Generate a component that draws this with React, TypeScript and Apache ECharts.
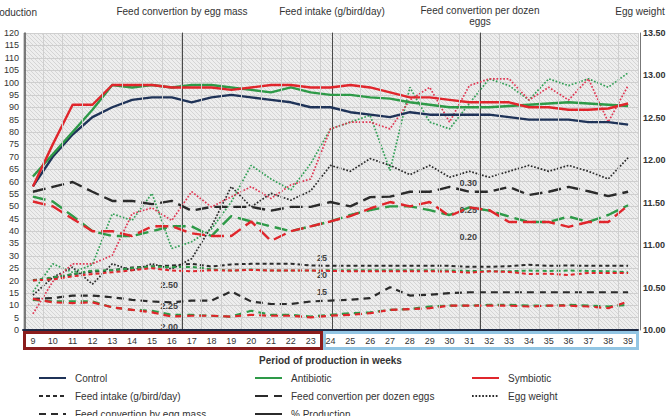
import { useEffect, useRef } from 'react';
import * as echarts from 'echarts';

// Weeks of the laying period
const weeks = ['9', '10', '11', '12', '13', '14', '15', '16', '17', '18', '19', '20', '21', '22', '23', '24', '25', '26', '27', '28', '29', '30', '31', '32', '33', '34', '35', '36', '37', '38', '39'];

// % Production (left axis)
const prodControl = [58, 70, 79, 86, 90, 93, 94, 94, 92, 94, 95, 94, 93, 92, 90, 90, 88, 87, 86, 88, 87, 87, 87, 87, 86, 85, 85, 85, 84, 84, 83];
const prodAntibiotic = [62, 71, 80, 89, 99, 98, 99, 98, 99, 99, 98, 97, 96, 98, 96, 95, 95, 94, 93.5, 92, 91, 90, 90, 90, 90.5, 91, 91.5, 92, 91.5, 91, 90.5];
const prodSymbiotic = [58, 75, 91, 91, 99, 99, 99, 98, 98, 98, 97, 98, 99, 99, 98, 98, 99, 98, 96, 94, 94, 93, 92, 92, 92, 90, 90, 89, 89, 89.5, 91.5];

// Egg weight (right axis)
const eggWControl = [10.41, 10.62, 10.74, 10.54, 10.78, 10.70, 10.78, 10.72, 10.84, 11.22, 11.69, 11.45, 11.61, 11.53, 11.64, 11.94, 11.87, 12.02, 11.94, 11.83, 11.94, 11.80, 11.87, 11.80, 11.87, 11.94, 11.87, 11.94, 11.87, 11.78, 12.03];
const eggWAntibiotic = [10.45, 10.78, 10.68, 10.77, 11.37, 11.29, 11.61, 10.96, 11.04, 11.19, 11.51, 11.94, 11.78, 11.65, 11.96, 12.37, 12.45, 12.53, 11.88, 12.86, 12.45, 12.37, 12.67, 12.96, 12.88, 12.71, 12.96, 12.88, 12.96, 12.86, 13.03];
const eggWSymbiotic = [10.19, 10.57, 10.78, 10.78, 10.88, 11.37, 11.44, 11.29, 11.63, 11.45, 11.57, 11.69, 11.55, 11.71, 11.78, 12.37, 12.45, 12.45, 12.37, 12.71, 12.86, 12.45, 12.88, 12.96, 12.96, 12.71, 12.86, 12.71, 12.96, 12.45, 12.88];

// Feed convertion per dozen eggs
const dozenControl = [0.284, 0.293, 0.302, 0.284, 0.267, 0.267, 0.261, 0.267, 0.249, 0.256, 0.256, 0.256, 0.249, 0.256, 0.256, 0.265, 0.257, 0.274, 0.275, 0.284, 0.284, 0.293, 0.284, 0.284, 0.293, 0.278, 0.284, 0.293, 0.285, 0.276, 0.284];
const dozenAntibiotic = [0.275, 0.266, 0.239, 0.211, 0.202, 0.202, 0.211, 0.220, 0.220, 0.202, 0.239, 0.229, 0.220, 0.211, 0.220, 0.229, 0.241, 0.250, 0.257, 0.257, 0.250, 0.241, 0.255, 0.249, 0.238, 0.228, 0.228, 0.238, 0.228, 0.241, 0.259];
const dozenSymbiotic = [0.266, 0.257, 0.234, 0.211, 0.211, 0.202, 0.220, 0.220, 0.207, 0.202, 0.202, 0.229, 0.193, 0.211, 0.220, 0.229, 0.239, 0.253, 0.265, 0.257, 0.265, 0.239, 0.255, 0.250, 0.228, 0.228, 0.228, 0.219, 0.228, 0.228, 0.259];

// Feed intake (g/bird/day)
const intakeControl = [18.5, 19.0, 20.2, 21.0, 21.4, 22.2, 22.5, 22.8, 23.3, 22.5, 23.1, 23.3, 23.3, 23.3, 22.8, 22.7, 22.7, 22.7, 22.7, 22.7, 22.7, 22.7, 22.4, 22.4, 22.6, 23.0, 22.7, 22.8, 22.7, 22.7, 22.7];
const intakeAntibiotic = [18.4, 19.3, 20.3, 21.3, 21.4, 22.0, 22.5, 22.3, 22.4, 21.7, 21.3, 21.6, 21.3, 21.3, 21.3, 21.4, 21.4, 21.4, 21.4, 21.4, 21.4, 21.3, 21.2, 21.1, 21.1, 21.3, 21.2, 21.3, 21.2, 21.1, 20.8];
const intakeSymbiotic = [18.4, 18.7, 19.6, 20.3, 20.8, 21.4, 22.0, 21.3, 21.1, 21.4, 21.3, 21.5, 21.3, 21.3, 21.3, 21.2, 21.1, 21.1, 21.1, 21.1, 21.1, 21.0, 20.7, 21.1, 20.9, 20.3, 20.4, 20.0, 20.6, 20.6, 20.6];

// Feed convertion by egg mass
const massControl = [2.33, 2.34, 2.37, 2.37, 2.35, 2.32, 2.30, 2.29, 2.31, 2.31, 2.42, 2.30, 2.27, 2.27, 2.30, 2.31, 2.32, 2.34, 2.47, 2.37, 2.38, 2.40, 2.41, 2.41, 2.41, 2.41, 2.41, 2.41, 2.41, 2.41, 2.41];
const massAntibiotic = [2.32, 2.30, 2.30, 2.30, 2.23, 2.20, 2.19, 2.14, 2.14, 2.13, 2.12, 2.19, 2.14, 2.14, 2.12, 2.14, 2.16, 2.17, 2.20, 2.21, 2.24, 2.25, 2.25, 2.26, 2.26, 2.25, 2.25, 2.26, 2.25, 2.24, 2.26];
const massSymbiotic = [2.33, 2.29, 2.28, 2.29, 2.23, 2.20, 2.17, 2.12, 2.13, 2.13, 2.12, 2.14, 2.13, 2.13, 2.11, 2.13, 2.14, 2.16, 2.20, 2.21, 2.22, 2.25, 2.25, 2.25, 2.25, 2.24, 2.25, 2.25, 2.24, 2.22, 2.30];

// Tick labels of the inner axes
const massTicks = [2.0, 2.25, 2.5];
const intakeTicks = [15, 20, 25];
const dozenTicks = [0.2, 0.25, 0.3];

const FONT = '"Liberation Sans", Arial, sans-serif';
const NAVY = '#1f3358';
const GREEN = '#2e9a48';
const RED = '#e0262c';
const BLACK = '#2b2b2b';
const GREEN_DOT = '#35a058';
const RED_DOT = '#e03a55';

const SOLID = 'solid';
const LONG_DASH = [13, 6];
const MID_DASH = [7, 5];
const SHORT_DASH = [4, 3];
const DOTS = [1.7, 1.7];

const hatchSvg =
  '<svg xmlns="http://www.w3.org/2000/svg" width="4" height="4">' +
  '<rect width="4" height="4" fill="#eeeeee"/>' +
  '<path d="M-1,-1 L5,5 M-1,3 L1,5 M3,-1 L5,1" stroke="#d3d3d3" stroke-width="0.9"/>' +
  '</svg>';
const hatch = 'data:image/svg+xml;utf8,' + encodeURIComponent(hatchSvg);

function line(name: string, data: number[], yAxisIndex: number, color: string, width: number, type: any) {
  return {
    type: 'line',
    name,
    data,
    yAxisIndex,
    symbol: 'none',
    silent: true,
    lineStyle: { color, width, type, cap: 'butt' },
    itemStyle: { color },
    emphasis: { disabled: true },
  };
}

function legendOnly(name: string, color: string, width: number, type: any) {
  return line(name, [], 0, color, width, type);
}

const axisLabelStyle = { fontSize: 9, color: '#333', fontFamily: FONT };
const nameStyle = { fontSize: 10, color: '#333', fontFamily: FONT };

function innerAxis(offset: number, min: number, max: number, ticks: number[], digits: number, name: string, nameGap: number, margin: number) {
  return {
    type: 'value',
    position: 'left',
    offset,
    min,
    max,
    name,
    nameLocation: 'end',
    nameGap,
    nameTextStyle: { ...nameStyle, lineHeight: 11, align: 'center' },
    axisLine: { show: true, lineStyle: { color: '#4a4a4a', width: 1 } },
    axisTick: { show: false },
    splitLine: { show: false },
    axisLabel: {
      customValues: ticks,
      margin,
      ...axisLabelStyle,
      fontWeight: 'bold',
      color: '#444',
      formatter: (v: number) => v.toFixed(digits),
    },
  };
}

export default function App() {
  const ref = useRef<HTMLDivElement>(null);

  useEffect(() => {
    if (!ref.current) return;
    const chart = echarts.init(ref.current, undefined, { renderer: 'svg' });

    const legendText = { fontSize: 10, color: '#333', fontFamily: FONT, padding: [0, 0, 0, 4] };
    const legendBase = {
      orient: 'vertical',
      top: 373,
      height: 80,
      padding: 0,
      itemWidth: 27,
      itemHeight: 12,
      itemGap: 8,
      selectedMode: false,
      itemStyle: { opacity: 0 },
      textStyle: legendText,
    };

    const option: any = {
      animation: false,
      backgroundColor: '#ffffff',
      textStyle: { fontFamily: FONT },
      grid: {
        left: 23,
        right: 28,
        top: 33,
        bottom: 86,
        show: true,
        borderWidth: 0,
        outerBoundsMode: 'none',
        backgroundColor: { image: hatch, repeat: 'repeat', imageWidth: 4, imageHeight: 4 },
      },
      legend: [
        { ...legendBase, left: 38, data: ['Control', 'Feed intake (g/bird/day)', 'Feed convertion by egg mass'] },
        { ...legendBase, left: 254, data: ['Antibiotic', 'Feed convertion per dozen eggs', '% Production'] },
        { ...legendBase, left: 471, data: ['Symbiotic', 'Egg weight'] },
      ],
      xAxis: {
        type: 'category',
        data: weeks,
        boundaryGap: true,
        name: 'Period of production in weeks',
        nameLocation: 'middle',
        nameGap: 25,
        nameTextStyle: { ...nameStyle, fontWeight: 'bold' },
        axisLine: { show: true, lineStyle: { color: '#1f2a44', width: 2 } },
        axisTick: { show: false },
        axisLabel: { interval: 0, margin: 6, ...axisLabelStyle },
        splitLine: { show: true, interval: 0, lineStyle: { color: '#cfcfcf', width: 1 } },
        z: 5,
      },
      yAxis: [
        {
          type: 'value',
          position: 'left',
          offset: -2,
          min: 0,
          max: 120,
          interval: 5,
          name: '% Production',
          nameLocation: 'end',
          nameGap: 16,
          nameTextStyle: { ...nameStyle, align: 'right', padding: [0, -12, 0, 0] },
          axisLine: { show: true, lineStyle: { color: '#555', width: 1.5 } },
          axisTick: { show: false },
          axisLabel: { margin: 6, ...axisLabelStyle },
          splitLine: { show: true, lineStyle: { color: '#cfcfcf', width: 1 } },
        },
        innerAxis(-159, 1.96, 5.5, massTicks, 2, 'Feed convertion by egg mass', 16, 4),
        innerAxis(-309, 3.82, 91.2, intakeTicks, 0, 'Feed intake (g/bird/day)', 16, 5),
        innerAxis(-457, 0.028, 0.578, dozenTicks, 2, 'Feed convertion per dozen\neggs', 6, 3),
        {
          type: 'value',
          position: 'right',
          offset: 2,
          min: 10,
          max: 13.5,
          interval: 0.5,
          name: 'Egg weight',
          nameLocation: 'end',
          nameGap: 17,
          nameTextStyle: { ...nameStyle, align: 'center' },
          axisLine: { show: true, lineStyle: { color: '#777', width: 1 } },
          axisTick: { show: false },
          splitLine: { show: false },
          axisLabel: { margin: 3, ...axisLabelStyle, fontWeight: 'bold', formatter: (v: number) => v.toFixed(2) },
        },
      ],
      graphic: [
        { type: 'rect', z: -1, shape: { x: 24.5, y: 332.5, width: 297, height: 16 }, style: { fill: '#ffffff', stroke: '#8b1d1d', lineWidth: 3 } },
        { type: 'rect', z: -1, shape: { x: 324.5, y: 332.5, width: 313, height: 16 }, style: { fill: '#ffffff', stroke: '#92c5e3', lineWidth: 3 } },
      ],
      series: [
        // legend entries
        legendOnly('Control', NAVY, 3, SOLID),
        legendOnly('Antibiotic', GREEN, 3, SOLID),
        legendOnly('Symbiotic', RED, 3, SOLID),
        legendOnly('Feed intake (g/bird/day)', BLACK, 3, SHORT_DASH),
        legendOnly('Feed convertion per dozen eggs', BLACK, 3, LONG_DASH),
        legendOnly('Egg weight', BLACK, 1.5, DOTS),
        legendOnly('Feed convertion by egg mass', BLACK, 3, MID_DASH),
        legendOnly('% Production', BLACK, 3, SOLID),

        // egg weight
        line('Control egg weight', eggWControl, 4, BLACK, 1.7, DOTS),
        line('Antibiotic egg weight', eggWAntibiotic, 4, GREEN_DOT, 1.7, DOTS),
        line('Symbiotic egg weight', eggWSymbiotic, 4, RED_DOT, 1.7, DOTS),

        // feed intake
        line('Control feed intake', intakeControl, 2, BLACK, 2, SHORT_DASH),
        line('Antibiotic feed intake', intakeAntibiotic, 2, GREEN, 2, SHORT_DASH),
        line('Symbiotic feed intake', intakeSymbiotic, 2, RED, 2, SHORT_DASH),

        // feed convertion by egg mass
        line('Control egg mass', massControl, 1, BLACK, 2.2, MID_DASH),
        line('Antibiotic egg mass', massAntibiotic, 1, GREEN, 2.2, MID_DASH),
        line('Symbiotic egg mass', massSymbiotic, 1, RED, 2.2, MID_DASH),

        // feed convertion per dozen eggs
        line('Control per dozen', dozenControl, 3, BLACK, 2.4, LONG_DASH),
        line('Antibiotic per dozen', dozenAntibiotic, 3, GREEN, 2.4, LONG_DASH),
        line('Symbiotic per dozen', dozenSymbiotic, 3, RED, 2.4, LONG_DASH),

        // % production
        line('Control production', prodControl, 0, NAVY, 2.4, SOLID),
        line('Antibiotic production', prodAntibiotic, 0, GREEN, 2.4, SOLID),
        line('Symbiotic production', prodSymbiotic, 0, RED, 2.4, SOLID),
      ],
    };

    chart.setOption(option);
    return () => chart.dispose();
  }, []);

  return <div ref={ref} style={{ position: 'fixed', left: 0, top: 0, width: 666, height: 416 }} />;
}
